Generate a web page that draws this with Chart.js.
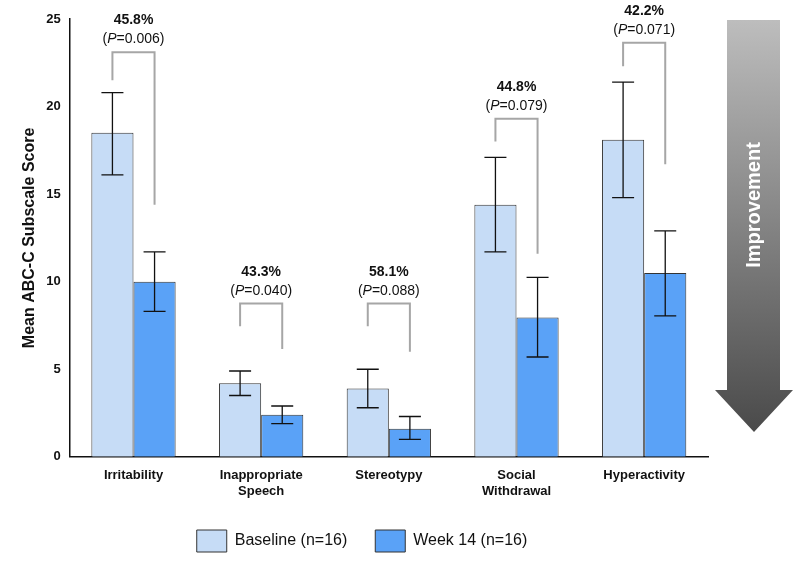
<!DOCTYPE html>
<html><head><meta charset="utf-8">
<script src="https://cdn.jsdelivr.net/npm/chart.js@4"></script>
<style>html,body{margin:0;padding:0;background:#fff}#w{width:794px;height:562px}</style>
</head><body><div id="w"><canvas id="c"></canvas></div>
<script>
const categories=[["Irritability"],["Inappropriate","Speech"],["Stereotypy"],["Social","Withdrawal"],["Hyperactivity"]];
const baseline=[18.5,4.2,3.9,14.4,18.1];
const baselineLo=[16.1,3.5,2.8,11.7,14.8];
const baselineHi=[20.8,4.9,5.0,17.1,21.4];
const week14=[10.0,2.4,1.6,7.95,10.5];
const week14Lo=[8.3,1.9,1.0,5.7,8.05];
const week14Hi=[11.7,2.9,2.3,10.25,12.9];
const pctLabels=["45.8%","43.3%","58.1%","44.8%","42.2%"];
const pLabels=["0.006","0.040","0.088","0.079","0.071"];
const bracketTop=[23.1,8.75,8.75,19.3,23.65];
const bracketLeft=[21.5,7.45,7.45,18.0,22.3];
const bracketRight=[14.4,6.15,6.0,11.6,16.7];
const yTicks=[0,5,10,15,20,25];

const deco={id:'deco',afterDatasetsDraw(ch){
 const ctx=ch.ctx,y=ch.scales.y;
 ctx.save();
 [[0,baselineLo,baselineHi],[1,week14Lo,week14Hi]].forEach(([di,lo,hi])=>{
  ch.getDatasetMeta(di).data.forEach((b,i)=>{
   const yl=y.getPixelForValue(lo[i]),yh=y.getPixelForValue(hi[i]);
   ctx.strokeStyle='#111';ctx.lineWidth=1.3;ctx.beginPath();
   ctx.moveTo(b.x,yl);ctx.lineTo(b.x,yh);
   ctx.moveTo(b.x-11,yl);ctx.lineTo(b.x+11,yl);
   ctx.moveTo(b.x-11,yh);ctx.lineTo(b.x+11,yh);ctx.stroke();
  });
 });
 const m0=ch.getDatasetMeta(0).data,m1=ch.getDatasetMeta(1).data;
 m0.forEach((b,i)=>{
  const x1=b.x,x2=m1[i].x,yt=y.getPixelForValue(bracketTop[i]);
  ctx.strokeStyle='#a6a6a6';ctx.lineWidth=2;ctx.beginPath();
  ctx.moveTo(x1,y.getPixelForValue(bracketLeft[i]));ctx.lineTo(x1,yt);ctx.lineTo(x2,yt);
  ctx.lineTo(x2,y.getPixelForValue(bracketRight[i]));ctx.stroke();
  const cx=(x1+x2)/2;
  ctx.fillStyle='#111';ctx.textAlign='center';ctx.textBaseline='alphabetic';
  ctx.font='bold 14px Arial, "Liberation Sans"';
  ctx.fillText(pctLabels[i],cx,yt-28);
  const a='(',pI='P',rest='='+pLabels[i]+')';
  ctx.font='14px Arial, "Liberation Sans"';const wa=ctx.measureText(a).width,wr=ctx.measureText(rest).width;
  ctx.font='italic 14px Arial, "Liberation Sans"';const wp=ctx.measureText(pI).width;
  let sx=cx-(wa+wp+wr)/2;ctx.textAlign='left';
  ctx.font='14px Arial, "Liberation Sans"';ctx.fillText(a,sx,yt-9);sx+=wa;
  ctx.font='italic 14px Arial, "Liberation Sans"';ctx.fillText(pI,sx,yt-9);sx+=wp;
  ctx.font='14px Arial, "Liberation Sans"';ctx.fillText(rest,sx,yt-9);
 });
 const g=ctx.createLinearGradient(0,20,0,432);
 g.addColorStop(0,'#bdbdbd');g.addColorStop(1,'#4a4a4a');
 ctx.fillStyle=g;ctx.beginPath();
 ctx.moveTo(727,20);ctx.lineTo(780,20);ctx.lineTo(780,390);ctx.lineTo(793,390);
 ctx.lineTo(754,432);ctx.lineTo(715,390);ctx.lineTo(727,390);ctx.closePath();ctx.fill();
 ctx.translate(754,205);ctx.rotate(-Math.PI/2);ctx.fillStyle='#fff';
 ctx.font='bold 20px Arial, "Liberation Sans"';ctx.textAlign='center';ctx.textBaseline='middle';
 ctx.fillText('Improvement',0,0);
 ctx.restore();
}};

new Chart(document.getElementById('c'),{
 type:'bar',
 data:{labels:categories,datasets:[
  {label:'Baseline (n=16)',data:baseline,backgroundColor:'#c6dcf6',borderColor:'#333',borderWidth:1},
  {label:'Week 14 (n=16)',data:week14,backgroundColor:'#5aa2f7',borderColor:'#333',borderWidth:1}]},
 options:{responsive:true,maintainAspectRatio:false,animation:false,
  categoryPercentage:0.66,barPercentage:1,
  layout:{padding:{top:19,right:86,left:16,bottom:0}},
  plugins:{tooltip:{enabled:false},
   legend:{position:'bottom',labels:{boxWidth:30,boxHeight:22,padding:28,color:'#111',font:{size:16,family:'Arial, "Liberation Sans"'}}}},
  scales:{
   x:{grid:{display:false,drawTicks:true},border:{color:'#111',width:1.5},
      ticks:{color:'#111',font:{size:13,weight:'bold',family:'Arial, "Liberation Sans"'}}},
   y:{min:0,max:25,afterBuildTicks(ax){ax.ticks=yTicks.map(v=>({value:v}));},
      grid:{display:false,drawTicks:true,tickLength:6},border:{color:'#111',width:1.5},
      ticks:{color:'#111',font:{size:13,weight:'bold',family:'Arial, "Liberation Sans"'}},
      title:{display:true,text:'Mean ABC-C Subscale Score',color:'#111',font:{size:16,weight:'bold',family:'Arial, "Liberation Sans"'}}}}
 },
 plugins:[deco]
});
</script></body></html>
